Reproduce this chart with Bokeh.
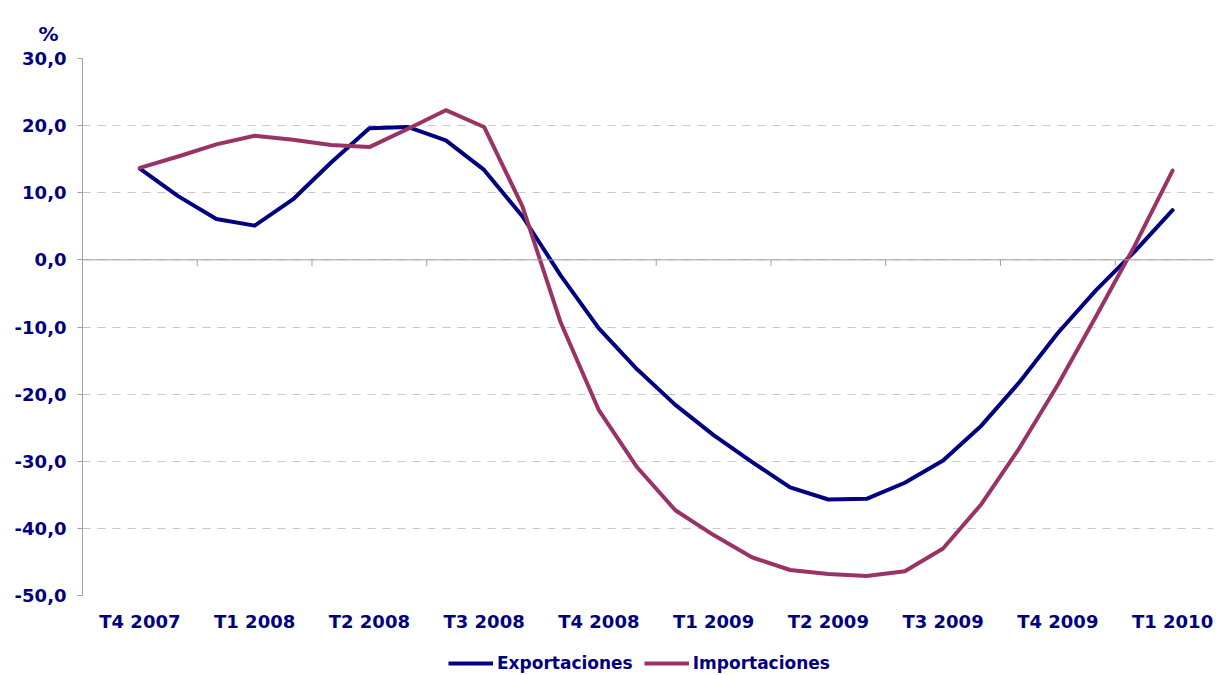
from bokeh.plotting import figure
from bokeh.layouts import column
from bokeh.models import Range1d, FixedTicker, Legend, LegendItem, Span, Title, Label
from bokeh.embed import file_html
from bokeh.resources import INLINE

# Quarter labels (one every 3 months on the axis)
trimestres = ["T4 2007", "T1 2008", "T2 2008", "T3 2008", "T4 2008",
              "T1 2009", "T2 2009", "T3 2009", "T4 2009", "T1 2010"]
# Monthly positions (0 = T4 2007 ... 27 = T1 2010)
meses = list(range(28))
exportaciones = [13.6, 9.5, 6.1, 5.1, 9.0, 14.5, 19.6, 19.8, 17.8, 13.4,
                 6.5, -2.3, -10.2, -16.3, -21.6, -26.1, -30.1, -33.9, -35.7, -35.6,
                 -33.2, -29.9, -24.7, -18.2, -10.9, -4.5, 1.2, 7.4]
importaciones = [13.7, 15.4, 17.2, 18.5, 17.9, 17.1, 16.8, 19.5, 22.3, 19.8,
                 8.0, -9.3, -22.4, -30.9, -37.3, -41.0, -44.3, -46.2, -46.8, -47.1,
                 -46.4, -43.0, -36.4, -28.0, -18.6, -8.4, 2.0, 13.3]
y_ticks = [-50, -40, -30, -20, -10, 0, 10, 20, 30]
series_names = ["Exportaciones", "Importaciones"]

NAVY = "#000080"
PURPLE = "#993366"
AXIS_GRAY = "#a0a0a0"
FONT = "DejaVu Sans"

quarter_pos = [3 * i for i in range(len(trimestres))]
boundary_pos = [q + 1.5 for q in quarter_pos]

p = figure(width=1218, height=637, output_backend="svg", toolbar_location=None,
           x_range=Range1d(-1.5, 28.07), y_range=Range1d(-50, 30),
           min_border_left=82, min_border_right=5, min_border_top=58,
           min_border_bottom=42)
p.outline_line_color = None
p.background_fill_color = "white"
p.border_fill_color = "white"

# "%" unit label at top left (title version)
p.title.text = "%"
p.title.align = "left"
p.title.offset = -44
p.title.text_font = FONT
p.title.text_font_style = "bold"
p.title.text_font_size = "20px"
p.title.text_color = NAVY
if "standoff" in Title.properties():
    p.title.standoff = 26

# "%" unit label (screen-positioned version, test)
pct = Label(x=-44, y=574.5, x_units="screen", y_units="screen", text="%",
            text_baseline="middle", text_font=FONT, text_font_style="bold",
            text_font_size="20px", text_color=NAVY)
p.add_layout(pct)

# y axis
yax = p.yaxis[0]
yax.ticker = FixedTicker(ticks=y_ticks)
yax.major_label_overrides = {t: f"{t:.1f}".replace(".", ",") for t in y_ticks}
yax.major_label_text_font = FONT
yax.major_label_text_font_style = "bold"
yax.major_label_text_font_size = "18px"
yax.major_label_text_color = NAVY
yax.major_label_standoff = 11
yax.axis_line_color = AXIS_GRAY
yax.major_tick_line_color = AXIS_GRAY
yax.major_tick_out = 5
yax.major_tick_in = 0
yax.minor_tick_line_color = None

# x axis (labels only, at the bottom)
xax = p.xaxis[0]
xax.ticker = FixedTicker(ticks=quarter_pos)
xax.major_label_overrides = {q: t for q, t in zip(quarter_pos, trimestres)}
xax.major_label_text_font = FONT
xax.major_label_text_font_style = "bold"
xax.major_label_text_font_size = "18px"
xax.major_label_text_color = NAVY
xax.major_label_standoff = 9
xax.axis_line_color = None
xax.major_tick_line_color = None
xax.minor_tick_line_color = None

# grid
p.xgrid.visible = False
p.ygrid.ticker = FixedTicker(ticks=y_ticks)
p.ygrid.grid_line_color = "#c8c8c8"
p.ygrid.grid_line_dash = "8 7"
p.ygrid.grid_line_width = 1

# zero line (category axis crosses at 0) with tick marks between quarters
p.add_layout(Span(location=0, dimension="width", line_color=AXIS_GRAY, line_width=1))
p.segment(x0=boundary_pos, y0=[0] * len(boundary_pos),
          x1=boundary_pos, y1=[-0.9] * len(boundary_pos),
          line_color=AXIS_GRAY, line_width=1)

p.line(meses, exportaciones, line_color=NAVY, line_width=4,
       line_join="round", line_cap="round")
p.line(meses, importaciones, line_color=PURPLE, line_width=4,
       line_join="round", line_cap="round")

# Legend strip below the chart (its own renderers sit outside its view)
pl = figure(width=1218, height=38, output_backend="svg", toolbar_location=None,
            x_axis_type=None, y_axis_type=None,
            x_range=Range1d(-1.5, 28.07), y_range=Range1d(1000, 1001),
            min_border_left=0, min_border_right=0, min_border_top=0,
            min_border_bottom=0)
pl.outline_line_color = None
pl.grid.visible = False
lr1 = pl.line(meses, exportaciones, line_color=NAVY, line_width=4)
lr2 = pl.line(meses, importaciones, line_color=PURPLE, line_width=4)
legend = Legend(items=[LegendItem(label=series_names[0], renderers=[lr1]),
                       LegendItem(label=series_names[1], renderers=[lr2])],
                orientation="horizontal", location=(366, 2))
legend.label_text_font = FONT
legend.label_text_font_style = "bold"
legend.label_text_font_size = "17px"
legend.label_text_color = NAVY
legend.glyph_width = 45
legend.glyph_height = 20
legend.label_height = 20
legend.label_standoff = 4
legend.spacing = 11
legend.padding = 0
legend.margin = 0
legend.border_line_color = None
legend.background_fill_alpha = 0
pl.add_layout(legend, "center")

layout = column(p, pl, spacing=0)
open("out.html", "w").write(file_html(layout, INLINE))
